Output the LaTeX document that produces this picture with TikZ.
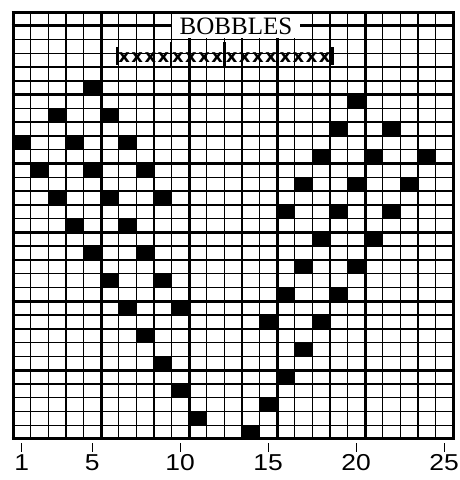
\documentclass[tikz,border=0pt]{standalone}
\usepackage{fontspec}
\newfontfamily\labfont{Liberation Sans}
\newfontfamily\titlefont{Liberation Serif}
\newfontfamily\stitchfont{DejaVu Sans}
\begin{document}
\begin{tikzpicture}[x=1pt,y=-1pt,
  thinline/.style={line width=1.4pt,black},
  thickline/.style={line width=3pt,black},
  cellfill/.style={fill=black},
  ticklabel/.style={font=\labfont\fontsize{23}{23}\selectfont,inner sep=0pt,text depth=0pt},
  stitch/.style={font=\stitchfont\bfseries\fontsize{18}{18}\selectfont,inner sep=0pt},
  rulerbar/.style={line width=2.2pt,black}]
\useasboundingbox (0,0) rectangle (460,480);
\fill[white] (0,0) rectangle (460,480);
\def\gx{13}\def\gw{17.6}\def\gy{12}\def\gh{13.774}
% filled cells (column, row from top)
\foreach \c/\r in {5/6,3/8,6/8,1/10,4/10,7/10,2/12,5/12,8/12,3/14,6/14,9/14,4/16,7/16,5/18,8/18,6/20,9/20,7/22,10/22,8/24,9/26,10/28,11/30,
  20/7,19/9,22/9,18/11,21/11,24/11,17/13,20/13,23/13,16/15,19/15,22/15,18/17,21/17,17/19,20/19,16/21,19/21,15/23,18/23,17/25,16/27,15/29,14/31}
  \fill[cellfill] ({\gx+(\c-1)*\gw},{\gy+(\r-1)*\gh}) rectangle ++(\gw,\gh);
% thin grid lines
\foreach \c in {1,2,3,4,6,7,8,9,11,12,13,14,16,17,18,19,21,22,23,24}
  \draw[thinline] ({\gx+\c*\gw},\gy) -- ({\gx+\c*\gw},{\gy+31*\gh});
\foreach \r in {2,3,4,5,7,8,9,10,12,13,14,15,17,18,19,20,22,23,24,25,27,28,29,30}
  \draw[thinline] (\gx,{\gy+\r*\gh}) -- ({\gx+25*\gw},{\gy+\r*\gh});
% thick grid lines
\foreach \c in {0,5,10,15,20,25}
  \draw[thickline] ({\gx+\c*\gw},\gy) -- ({\gx+\c*\gw},{\gy+31*\gh});
\foreach \r in {0,1,6,11,16,21,26,31}
  \draw[thickline] ({\gx-1.5},{\gy+\r*\gh}) -- ({\gx+25*\gw+1.5},{\gy+\r*\gh});
% title
\node[fill=white,minimum width=128pt,minimum height=24pt,inner sep=0pt,text depth=0pt,
  font=\titlefont\fontsize{25}{25}\selectfont] (title) at (236,25.8) {BOBBLES};
% ruler
\draw[rulerbar,line width=3pt] (117,47) -- (117,65);
\draw[rulerbar,line width=3pt] (332,47) -- (332,65);
\foreach \bx in {170.75,224.5,278.25}
  \draw[rulerbar] (\bx,42) -- (\bx,68);
\foreach \g in {0,1,2,3}
  \foreach \k in {0,1,2,3}
    \node[stitch] (x\g\k) at ({117+\g*53.75+7.2+\k*13.1},57.5) {x};
% ticks and labels
\foreach \c/\t in {1/1,5/5,10/10,15/15,20/20,25/25} {
  \coordinate (t\c) at ({\gx+(\c-0.5)*\gw},443);
  \draw[line width=1.2pt] (t\c) -- ++(0,9);
  \node[ticklabel] (l\c) at ({\gx+(\c-0.5)*\gw},462.5) {\scalebox{1.15}[1]{\t}};
}
\end{tikzpicture}
\end{document}
